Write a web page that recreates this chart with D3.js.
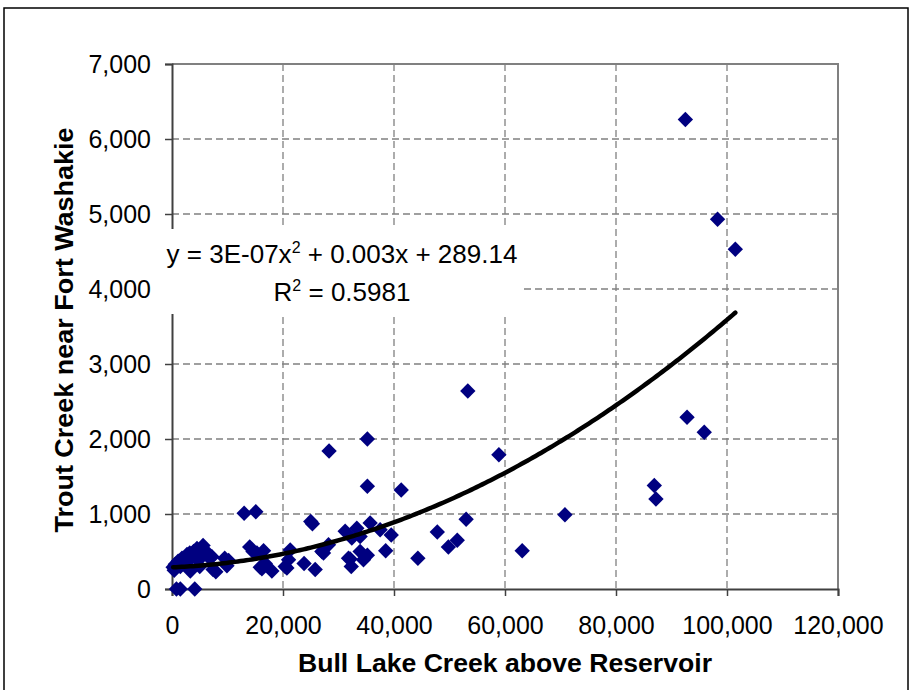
<!DOCTYPE html>
<html>
<head>
<meta charset="utf-8">
<script src="https://cdn.jsdelivr.net/npm/d3@7"></script>
<style>
  html, body { margin: 0; padding: 0; background: #fff; }
  svg { display: block; }
  text { font-family: "Liberation Sans", Arial, sans-serif; fill: #000; }
</style>
</head>
<body>
<svg id="chart" width="916" height="690"></svg>
<script>
// ---- data ----
const bullLake = [200, 400, 600, 800, 1500, 4100, 900, 1100, 1500, 1800, 2100, 2400, 2700, 3000, 3200, 3500, 3900, 3300, 4500, 4700,
  5200, 5600, 5900, 5000, 6800, 7200, 7400, 7900, 9500, 9900, 10200, 13000, 15100, 14000, 14600, 15300, 16500, 16200, 18000, 15900,
  16800, 20400, 20700, 21000, 21300, 23800, 25800, 25000, 25300, 27000, 27300, 28200, 28300, 31200, 31800, 32100, 32300, 32400, 33300, 33900,
  33900, 34500, 35200, 35700, 35200, 35200, 37500, 38500, 39500, 41300, 44300, 47800, 49800, 51400, 53000, 53300, 58900, 63100, 70800, 86900,
  87200, 92500, 92800, 95900, 98300, 101500];
const troutCreek = [290, 250, 330, 0, 0, 0, 300, 370, 300, 410, 340, 390, 460, 300, 480, 420, 500, 240, 540, 380,
  440, 580, 520, 300, 410, 430, 260, 230, 410, 310, 380, 1010, 1030, 560, 500, 480, 510, 270, 240, 290,
  340, 300, 280, 390, 520, 340, 260, 900, 870, 500, 480, 590, 1840, 770, 410, 400, 300, 680, 810, 700,
  500, 390, 450, 880, 2000, 1370, 790, 510, 720, 1320, 410, 760, 560, 650, 930, 2640, 1790, 510, 990, 1380,
  1200, 6260, 2290, 2090, 4930, 4530];
const xTicks = [0, 20000, 40000, 60000, 80000, 100000, 120000];
const yTicks = [0, 1000, 2000, 3000, 4000, 5000, 6000, 7000];
const trendCoef = [3e-7, 0.003, 289.14]; // y = a x^2 + b x + c
const equationText = "y = 3E-07x";
const equationRest = " + 0.003x + 289.14";
const r2Value = "0.5981";
const xTitle = "Bull Lake Creek above Reservoir";
const yTitle = "Trout Creek near Fort Washakie";

const points = bullLake.map((x, i) => ({x, y: troutCreek[i]}));

const svg = d3.select("#chart");
const L = 172, R = 838, T = 64, B = 589;
const x = d3.scaleLinear().domain([0, 120000]).range([L, R]);
const y = d3.scaleLinear().domain([0, 7000]).range([B, T]);
const fmt = d3.format(",");

// outer border
svg.append("rect").attr("x", 4).attr("y", 8).attr("width", 904).attr("height", 700)
  .attr("fill", "none").attr("stroke", "#000").attr("stroke-width", 1.5);

// gridlines
const grid = svg.append("g").attr("stroke", "#808080").attr("stroke-width", 1.3).attr("stroke-dasharray", "7,4");
grid.selectAll("line.v").data(xTicks.filter(d => d > 0 && d < 120000)).join("line")
  .attr("x1", d => x(d)).attr("x2", d => x(d)).attr("y1", T).attr("y2", B);
grid.selectAll("line.h").data(yTicks.filter(d => d > 0 && d < 7000)).join("line")
  .attr("y1", d => y(d)).attr("y2", d => y(d)).attr("x1", L).attr("x2", R);

// frame top/right
svg.append("path").attr("d", `M${L},${T}H${R}V${B}`).attr("fill", "none")
  .attr("stroke", "#808080").attr("stroke-width", 2);

// axes
const xAxis = svg.append("g").attr("transform", `translate(0,${B})`)
  .call(d3.axisBottom(x).tickValues(xTicks).tickFormat(fmt).tickSize(7).tickPadding(20));
const yAxis = svg.append("g").attr("transform", `translate(${L},0)`)
  .call(d3.axisLeft(y).tickValues(yTicks).tickFormat(fmt).tickSize(7).tickPadding(14));
[xAxis, yAxis].forEach(g => {
  g.select(".domain").attr("stroke", "#404040").attr("stroke-width", 2);
  g.selectAll(".tick line").attr("stroke", "#404040").attr("stroke-width", 1.5);
  g.selectAll(".tick text").attr("font-size", 25).attr("font-family", "Liberation Sans, Arial, sans-serif").attr("fill", "#000");
});
xAxis.selectAll(".tick text").attr("dy", "0.71em");
yAxis.selectAll(".tick text").attr("dy", "0.35em");

// equation label box (white background)
svg.append("rect").attr("x", 156).attr("y", 229).attr("width", 368).attr("height", 85).attr("fill", "#fff");

// trendline
const xs = d3.extent(bullLake);
const trendPts = d3.range(0, 201).map(i => {
  const xv = xs[0] + (xs[1] - xs[0]) * i / 200;
  return [xv, trendCoef[0] * xv * xv + trendCoef[1] * xv + trendCoef[2]];
});

// points
const sym = d3.symbol().type(d3.symbolSquare).size(118);
svg.append("g").selectAll("path").data(points).join("path")
  .attr("d", sym)
  .attr("transform", d => `translate(${x(d.x)},${y(d.y)}) rotate(45)`)
  .attr("fill", "#000080");

svg.append("path").datum(trendPts)
  .attr("d", d3.line().x(d => x(d[0])).y(d => y(d[1])).curve(d3.curveBasis))
  .attr("fill", "none").attr("stroke", "#000").attr("stroke-width", 4.5).attr("stroke-linecap", "round");

// equation text
const eq = svg.append("text").attr("x", 342).attr("y", 263).attr("text-anchor", "middle").attr("font-size", 26);
eq.append("tspan").text(equationText);
eq.append("tspan").attr("font-size", 16).attr("dy", -10).text("2");
eq.append("tspan").attr("dy", 10).text(equationRest);
const r2 = svg.append("text").attr("x", 342).attr("y", 301).attr("text-anchor", "middle").attr("font-size", 26);
r2.append("tspan").text("R");
r2.append("tspan").attr("font-size", 16).attr("dy", -10).text("2");
r2.append("tspan").attr("dy", 10).text(" = " + r2Value);

// axis titles
svg.append("text").attr("x", 505).attr("y", 672).attr("text-anchor", "middle")
  .attr("font-size", 25).attr("font-weight", "bold")
  .attr("textLength", 414).attr("lengthAdjust", "spacingAndGlyphs").text(xTitle);
svg.append("text").attr("transform", "translate(73,330) rotate(-90)").attr("text-anchor", "middle")
  .attr("font-size", 25).attr("font-weight", "bold")
  .attr("textLength", 405).attr("lengthAdjust", "spacingAndGlyphs").text(yTitle);
</script>
</body>
</html>
